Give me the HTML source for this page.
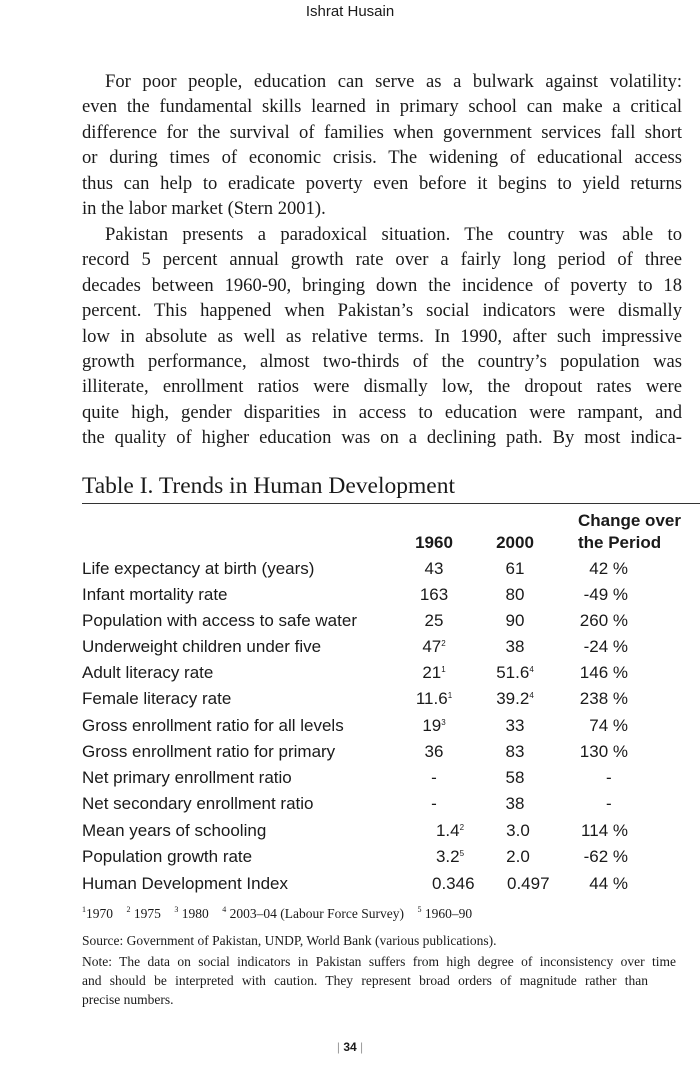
<!DOCTYPE html>
<html><head><meta charset="utf-8"><style>
html,body{margin:0;padding:0;background:#fff;}
body{width:700px;height:1071px;position:relative;overflow:hidden;color:#1a1a1a;}
.a{position:absolute;white-space:nowrap;}
.hd{font-family:"Liberation Sans",sans-serif;font-size:15px;left:0;width:700px;text-align:center;top:3px;}
.p{font-family:"Liberation Serif",serif;font-size:18.6px;left:82px;width:600px;height:24px;line-height:24px;text-align:justify;text-align-last:justify;}
.p.l{text-align-last:left;}
.p.i{left:105px;width:577px;}
.tt{font-family:"Liberation Serif",serif;font-size:23.5px;left:82px;top:473px;}
.rule{position:absolute;left:82px;top:503px;width:618px;height:1px;background:#333;}
.t{font-family:"Liberation Sans",sans-serif;font-size:17px;line-height:20px;height:20px;}
.b{font-weight:bold;}
.c1{left:404px;width:60px;text-align:center;}
.c2{left:485px;width:60px;text-align:center;}
.c3{left:560px;width:68px;text-align:right;}
sup{font-size:8px;vertical-align:6px;line-height:0;}
.fn{font-family:"Liberation Serif",serif;font-size:13.5px;left:82px;}
</style></head><body>
<div class="a hd">Ishrat Husain</div>
<div class="a p i" style="top:70px">For poor people, education can serve as a bulwark against volatility:</div>
<div class="a p" style="top:95px">even the fundamental skills learned in primary school can make a critical</div>
<div class="a p" style="top:121px">difference for the survival of families when government services fall short</div>
<div class="a p" style="top:146px">or during times of economic crisis. The widening of educational access</div>
<div class="a p" style="top:172px">thus can help to eradicate poverty even before it begins to yield returns</div>
<div class="a p l" style="top:197px">in the labor market (Stern 2001).</div>
<div class="a p i" style="top:223px">Pakistan presents a paradoxical situation. The country was able to</div>
<div class="a p" style="top:248px">record 5 percent annual growth rate over a fairly long period of three</div>
<div class="a p" style="top:274px">decades between 1960-90, bringing down the incidence of poverty to 18</div>
<div class="a p" style="top:299px">percent. This happened when Pakistan’s social indicators were dismally</div>
<div class="a p" style="top:325px">low in absolute as well as relative terms. In 1990, after such impressive</div>
<div class="a p" style="top:350px">growth performance, almost two-thirds of the country’s population was</div>
<div class="a p" style="top:375px">illiterate, enrollment ratios were dismally low, the dropout rates were</div>
<div class="a p" style="top:401px">quite high, gender disparities in access to education were rampant, and</div>
<div class="a p" style="top:426px">the quality of higher education was on a declining path. By most indica-</div>
<div class="a tt">Table I. Trends in Human Development</div>
<div class="rule"></div>
<div class="a t b" style="left:578px;top:511px">Change over</div>
<div class="a t b c1" style="top:533px">1960</div>
<div class="a t b c2" style="top:533px">2000</div>
<div class="a t b" style="left:578px;top:533px">the Period</div>

<div class="a t" style="left:82px;top:559px">Life expectancy at birth (years)</div><div class="a t c1" style="top:559px">43</div><div class="a t c2" style="top:559px">61</div><div class="a t c3" style="top:559px">42 %</div>
<div class="a t" style="left:82px;top:585px">Infant mortality rate</div><div class="a t c1" style="top:585px">163</div><div class="a t c2" style="top:585px">80</div><div class="a t c3" style="top:585px">-49 %</div>
<div class="a t" style="left:82px;top:611px">Population with access to safe water</div><div class="a t c1" style="top:611px">25</div><div class="a t c2" style="top:611px">90</div><div class="a t c3" style="top:611px">260 %</div>
<div class="a t" style="left:82px;top:637px">Underweight children under five</div><div class="a t c1" style="top:637px">47<sup>2</sup></div><div class="a t c2" style="top:637px">38</div><div class="a t c3" style="top:637px">-24 %</div>
<div class="a t" style="left:82px;top:663px">Adult literacy rate</div><div class="a t c1" style="top:663px">21<sup>1</sup></div><div class="a t c2" style="top:663px">51.6<sup>4</sup></div><div class="a t c3" style="top:663px">146 %</div>
<div class="a t" style="left:82px;top:689px">Female literacy rate</div><div class="a t c1" style="top:689px">11.6<sup>1</sup></div><div class="a t c2" style="top:689px">39.2<sup>4</sup></div><div class="a t c3" style="top:689px">238 %</div>
<div class="a t" style="left:82px;top:716px">Gross enrollment ratio for all levels</div><div class="a t c1" style="top:716px">19<sup>3</sup></div><div class="a t c2" style="top:716px">33</div><div class="a t c3" style="top:716px">74 %</div>
<div class="a t" style="left:82px;top:742px">Gross enrollment ratio for primary</div><div class="a t c1" style="top:742px">36</div><div class="a t c2" style="top:742px">83</div><div class="a t c3" style="top:742px">130 %</div>
<div class="a t" style="left:82px;top:768px">Net primary enrollment ratio</div><div class="a t c1" style="top:768px">-</div><div class="a t c2" style="top:768px">58</div><div class="a t" style="left:606px;top:768px">-</div>
<div class="a t" style="left:82px;top:794px">Net secondary enrollment ratio</div><div class="a t c1" style="top:794px">-</div><div class="a t c2" style="top:794px">38</div><div class="a t" style="left:606px;top:794px">-</div>
<div class="a t" style="left:82px;top:821px">Mean years of schooling</div><div class="a t c1" style="top:821px;left:420px">1.4<sup>2</sup></div><div class="a t c2" style="top:821px;left:488px">3.0</div><div class="a t c3" style="top:821px">114 %</div>
<div class="a t" style="left:82px;top:847px">Population growth rate</div><div class="a t c1" style="top:847px;left:420px">3.2<sup>5</sup></div><div class="a t c2" style="top:847px;left:488px">2.0</div><div class="a t c3" style="top:847px">-62 %</div>
<div class="a t" style="left:82px;top:874px">Human Development Index</div><div class="a t" style="top:874px;left:432px">0.346</div><div class="a t" style="top:874px;left:507px">0.497</div><div class="a t c3" style="top:874px">44 %</div>

<div class="a fn" style="top:906px"><sup>1</sup>1970 &nbsp;&nbsp; <sup>2</sup> 1975 &nbsp;&nbsp; <sup>3</sup> 1980 &nbsp;&nbsp; <sup>4</sup> 2003–04 (Labour Force Survey) &nbsp;&nbsp; <sup>5</sup> 1960–90</div>
<div class="a fn" style="top:933px">Source: Government of Pakistan, UNDP, World Bank (various publications).</div>
<div class="a fn" style="top:954px;width:594px;text-align:justify;text-align-last:justify">Note: The data on social indicators in Pakistan suffers from high degree of inconsistency over time</div>
<div class="a fn" style="top:973px;width:566px;text-align:justify;text-align-last:justify">and should be interpreted with caution. They represent broad orders of magnitude rather than</div>
<div class="a fn" style="top:992px">precise numbers.</div>
<div class="a" style="left:0;width:700px;text-align:center;top:1040px;font-family:'Liberation Sans',sans-serif;font-size:12px;"><span style="color:#999">|</span> <b>34</b> <span style="color:#999">|</span></div>
</body></html>
